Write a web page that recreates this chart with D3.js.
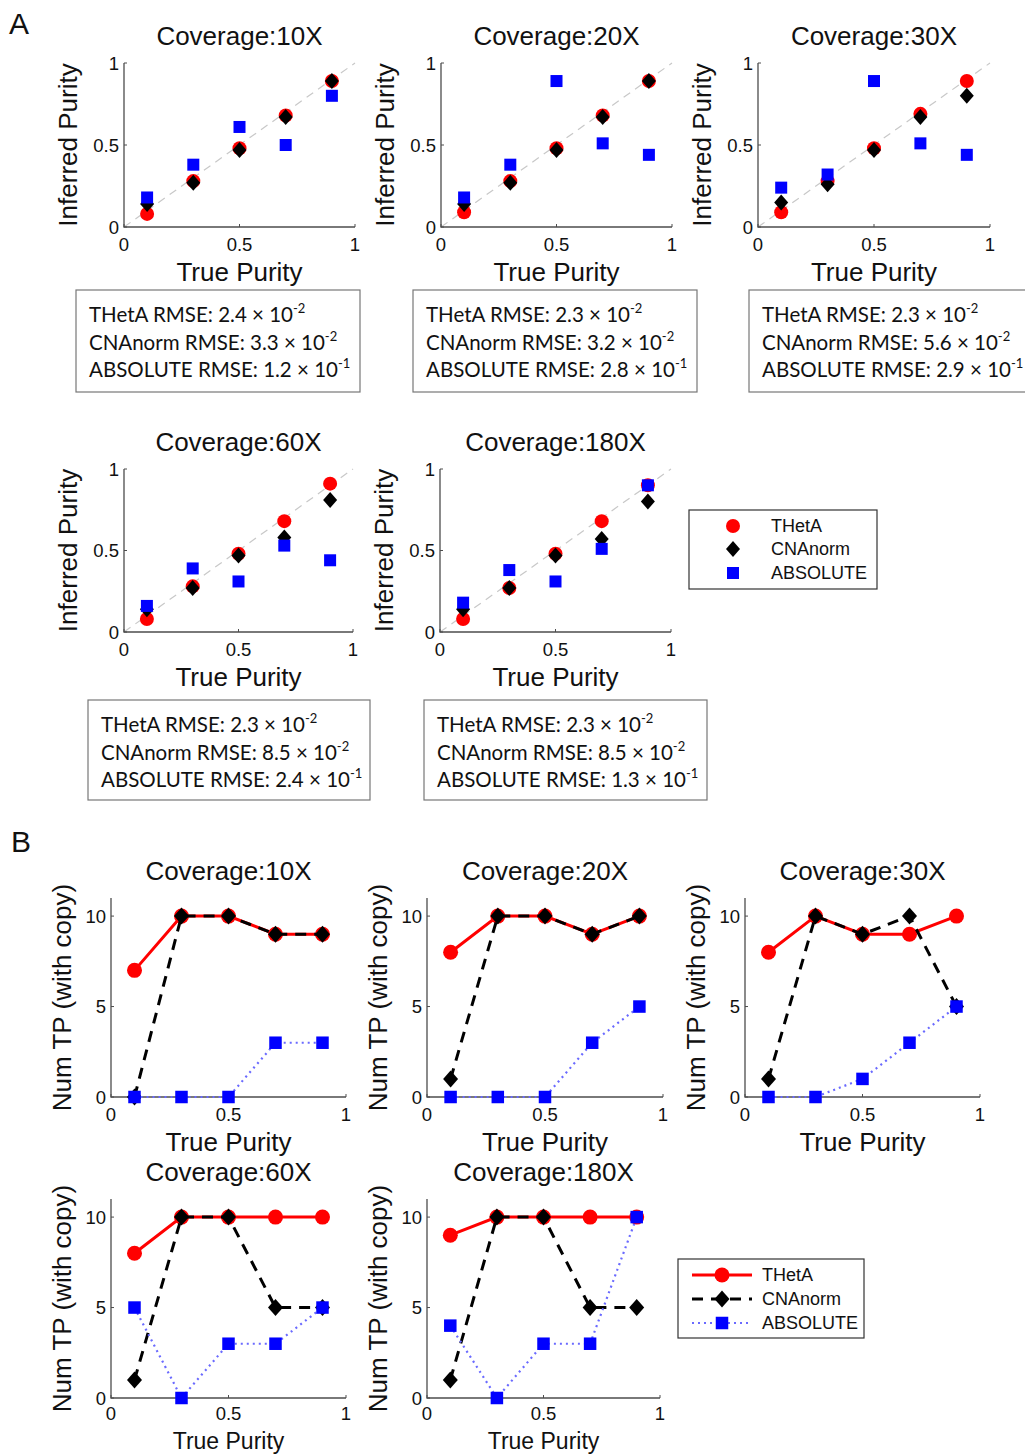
<!DOCTYPE html>
<html>
<head>
<meta charset="utf-8">
<script src="https://cdnjs.cloudflare.com/ajax/libs/d3/7.8.5/d3.min.js"></script>
<style>
  body { margin: 0; background: #fff; }
  svg { display: block; }
</style>
</head>
<body>
<svg id="fig" width="1025" height="1454"></svg>
<script>
// purity figure: A = inferred purity scatter, B = num TP lines

// ---- data ----
const purity = [0.1, 0.3, 0.5, 0.7, 0.9];
const coverages = ["10X", "20X", "30X", "60X", "180X"];
const methods = ["THetA", "CNAnorm", "ABSOLUTE"];
const purityTicks = [0, 0.5, 1];
const tpTicks = [0, 5, 10];

// A: inferred purity per coverage
const inferThetA = [
  [0.08, 0.28, 0.48, 0.68, 0.89],
  [0.09, 0.28, 0.48, 0.68, 0.89],
  [0.09, 0.28, 0.48, 0.69, 0.89],
  [0.08, 0.28, 0.48, 0.68, 0.91],
  [0.08, 0.27, 0.48, 0.68, 0.90]
];
const inferCNAnorm = [
  [0.14, 0.27, 0.47, 0.67, 0.89],
  [0.14, 0.27, 0.47, 0.67, 0.89],
  [0.15, 0.26, 0.47, 0.67, 0.80],
  [0.14, 0.27, 0.47, 0.58, 0.81],
  [0.14, 0.27, 0.47, 0.57, 0.80]
];
const inferAbsolute = [
  [0.18, 0.38, 0.61, 0.50, 0.80],
  [0.18, 0.38, 0.89, 0.51, 0.44],
  [0.24, 0.32, 0.89, 0.51, 0.44],
  [0.16, 0.39, 0.31, 0.53, 0.44],
  [0.18, 0.38, 0.31, 0.51, 0.90]
];
// RMSE: [mantissa, exponent]
const rmseThetA = [["2.4", "-2"], ["2.3", "-2"], ["2.3", "-2"], ["2.3", "-2"], ["2.3", "-2"]];
const rmseCNAnorm = [["3.3", "-2"], ["3.2", "-2"], ["5.6", "-2"], ["8.5", "-2"], ["8.5", "-2"]];
const rmseAbsolute = [["1.2", "-1"], ["2.8", "-1"], ["2.9", "-1"], ["2.4", "-1"], ["1.3", "-1"]];

// B: number of true positives (with copy)
const tpThetA = [
  [7, 10, 10, 9, 9],
  [8, 10, 10, 9, 10],
  [8, 10, 9, 9, 10],
  [8, 10, 10, 10, 10],
  [9, 10, 10, 10, 10]
];
const tpCNAnorm = [
  [0, 10, 10, 9, 9],
  [1, 10, 10, 9, 10],
  [1, 10, 9, 10, 5],
  [1, 10, 10, 5, 5],
  [1, 10, 10, 5, 5]
];
const tpAbsolute = [
  [0, 0, 0, 3, 3],
  [0, 0, 0, 3, 5],
  [0, 0, 1, 3, 5],
  [5, 0, 3, 3, 5],
  [4, 0, 3, 3, 10]
];

// ---- layout ----
const layoutA = [
  { x0: 124, x1: 355, y0: 227, y1: 63 },
  { x0: 441, x1: 672, y0: 227, y1: 63 },
  { x0: 758, x1: 990, y0: 227, y1: 63 },
  { x0: 124, x1: 353, y0: 632, y1: 469 },
  { x0: 440, x1: 671, y0: 632, y1: 469 }
];
const boxesA = [
  { x: 76, y: 290, w: 284, h: 102 },
  { x: 413, y: 290, w: 284, h: 102 },
  { x: 749, y: 290, w: 290, h: 102 },
  { x: 88, y: 700, w: 282, h: 100 },
  { x: 424, y: 700, w: 283, h: 100 }
];
const layoutB = [
  { x0: 111, x1: 346, y0: 1097, y1: 898 },
  { x0: 427, x1: 663, y0: 1097, y1: 898 },
  { x0: 745, x1: 980, y0: 1097, y1: 898 },
  { x0: 111, x1: 346, y0: 1398, y1: 1199 },
  { x0: 427, x1: 660, y0: 1398, y1: 1199 }
];

const FONT = '"Liberation Sans", Arial, Helvetica, sans-serif';
const BOXFONT = 'Lato, "Open Sans", sans-serif';
const RED = "#ff0000", BLUE = "#0000ff", BLUE_LINE = "#6a6aff";
const AXIS = "#4d4d4d";
const H = 1454;

const svg = d3.select("#fig");

// markers
function circle(g, cx, cy, r) {
  g.append("circle").attr("cx", cx).attr("cy", cy).attr("r", r).attr("fill", RED);
}
function diamond(g, cx, cy, w, h) {
  g.append("path")
    .attr("d", `M${cx},${cy - h / 2}L${cx + w / 2},${cy}L${cx},${cy + h / 2}L${cx - w / 2},${cy}Z`)
    .attr("fill", "#000");
}
function square(g, cx, cy, s) {
  g.append("rect").attr("x", cx - s / 2).attr("y", cy - s / 2)
    .attr("width", s).attr("height", s).attr("fill", BLUE);
}

function drawAxes(g, x, y, yTicks, ylabel, ylabOff) {
  const [xa, xb] = x.range();
  const [ya, yb] = y.range();
  // bottom row runs into the page edge: squeeze its x label a little
  const tight = ya + 54 > H - 7;

  g.append("path")
    .attr("d", `M${xa},${yb}V${ya}H${xb}`)
    .attr("fill", "none").attr("stroke", AXIS).attr("stroke-width", 1.3);

  purityTicks.forEach(t => {
    g.append("line").attr("x1", x(t)).attr("x2", x(t)).attr("y1", ya).attr("y2", ya - 3)
      .attr("stroke", AXIS).attr("stroke-width", 1);
    g.append("text").attr("x", x(t)).attr("y", ya + (tight ? 22 : 24))
      .attr("text-anchor", "middle").attr("font-size", 18.5).text(t);
  });
  yTicks.forEach(t => {
    g.append("line").attr("x1", xa).attr("x2", xa + 3).attr("y1", y(t)).attr("y2", y(t))
      .attr("stroke", AXIS).attr("stroke-width", 1);
    g.append("text").attr("x", xa - 5).attr("y", y(t)).attr("dy", "0.36em")
      .attr("text-anchor", "end").attr("font-size", 18.5).text(t);
  });

  g.append("text")
    .attr("transform", `translate(${xa - ylabOff},${(ya + yb) / 2}) rotate(-90)`)
    .attr("text-anchor", "middle").attr("dy", "0.36em")
    .attr("font-size", 26).text(ylabel);
  g.append("text").attr("x", (xa + xb) / 2).attr("y", tight ? H - 5 : ya + 54)
    .attr("text-anchor", "middle").attr("font-size", tight ? 23 : 26).text("True Purity");
}

function title(g, x, y, i) {
  const [xa, xb] = x.range();
  g.append("text").attr("x", (xa + xb) / 2).attr("y", y.range()[1] - 18)
    .attr("text-anchor", "middle").attr("font-size", 26)
    .text("Coverage:" + coverages[i]);
}

// ---- panel A ----
coverages.forEach((cov, i) => {
  const L = layoutA[i];
  const g = svg.append("g").attr("font-family", FONT).attr("fill", "#111");
  const x = d3.scaleLinear().domain([0, 1]).range([L.x0, L.x1]);
  const y = d3.scaleLinear().domain([0, 1]).range([L.y0, L.y1]);

  g.append("line")
    .attr("x1", x(0)).attr("y1", y(0)).attr("x2", x(1)).attr("y2", y(1))
    .attr("stroke", "#c8c8c8").attr("stroke-width", 1.2).attr("stroke-dasharray", "8,6");

  drawAxes(g, x, y, purityTicks, "Inferred Purity", 56);
  title(g, x, y, i);

  purity.forEach((p, j) => circle(g, x(p), y(inferThetA[i][j]), 7));
  purity.forEach((p, j) => diamond(g, x(p), y(inferCNAnorm[i][j]), 14, 16));
  purity.forEach((p, j) => square(g, x(p), y(inferAbsolute[i][j]), 12));

  // rmse box
  const B = boxesA[i];
  const bg = svg.append("g").attr("font-family", BOXFONT).attr("fill", "#111");
  bg.append("rect").attr("x", B.x).attr("y", B.y).attr("width", B.w).attr("height", B.h)
    .attr("fill", "#fff").attr("stroke", "#777").attr("stroke-width", 1.2);
  const rows = [
    ["THetA", rmseThetA[i]],
    ["CNAnorm", rmseCNAnorm[i]],
    ["ABSOLUTE", rmseAbsolute[i]]
  ];
  rows.forEach((r, k) => {
    const t = bg.append("text").attr("x", B.x + 13).attr("y", B.y + 32 + k * 27.5)
      .attr("font-size", 20.5);
    t.append("tspan").text(`${r[0]} RMSE: ${r[1][0]} \u00d7 10`);
    t.append("tspan").attr("dy", -9).attr("font-size", 13).text(r[1][1]);
  });
});

// legend A
{
  const g = svg.append("g").attr("font-family", FONT).attr("fill", "#111");
  g.append("rect").attr("x", 689).attr("y", 510).attr("width", 188).attr("height", 79)
    .attr("fill", "#fff").attr("stroke", "#333").attr("stroke-width", 1.2);
  const ys = [526, 549, 573];
  circle(g, 733, ys[0], 7);
  diamond(g, 733, ys[1], 14, 16);
  square(g, 733, ys[2], 12);
  methods.forEach((m, k) => {
    g.append("text").attr("x", 771).attr("y", ys[k]).attr("dy", "0.36em")
      .attr("font-size", 18).text(m);
  });
}

// ---- panel B ----
coverages.forEach((cov, i) => {
  const L = layoutB[i];
  const g = svg.append("g").attr("font-family", FONT).attr("fill", "#111");
  const x = d3.scaleLinear().domain([0, 1]).range([L.x0, L.x1]);
  const y = d3.scaleLinear().domain([0, 11]).range([L.y0, L.y1]);

  drawAxes(g, x, y, tpTicks, "Num TP (with copy)", 49);
  title(g, x, y, i);

  const line = d3.line().x((d, j) => x(purity[j])).y(d => y(d));

  g.append("path").attr("d", line(tpThetA[i])).attr("fill", "none")
    .attr("stroke", RED).attr("stroke-width", 3);
  purity.forEach((p, j) => circle(g, x(p), y(tpThetA[i][j]), 7.5));

  g.append("path").attr("d", line(tpCNAnorm[i])).attr("fill", "none")
    .attr("stroke", "#000").attr("stroke-width", 3).attr("stroke-dasharray", "11,8");
  purity.forEach((p, j) => diamond(g, x(p), y(tpCNAnorm[i][j]), 15, 17));

  g.append("path").attr("d", line(tpAbsolute[i])).attr("fill", "none")
    .attr("stroke", BLUE_LINE).attr("stroke-width", 2.2).attr("stroke-dasharray", "2,4");
  purity.forEach((p, j) => square(g, x(p), y(tpAbsolute[i][j]), 12.5));
});

// legend B
{
  const g = svg.append("g").attr("font-family", FONT).attr("fill", "#111");
  g.append("rect").attr("x", 678).attr("y", 1259).attr("width", 186).attr("height", 79)
    .attr("fill", "#fff").attr("stroke", "#333").attr("stroke-width", 1.2);
  const ys = [1275, 1299, 1323];
  const seg = (yy, col, w, dash) => g.append("line").attr("x1", 692).attr("x2", 752)
    .attr("y1", yy).attr("y2", yy).attr("stroke", col).attr("stroke-width", w)
    .attr("stroke-dasharray", dash);
  seg(ys[0], RED, 3, null);
  circle(g, 722, ys[0], 7.5);
  seg(ys[1], "#000", 3, "11,8");
  diamond(g, 722, ys[1], 15, 17);
  seg(ys[2], BLUE_LINE, 2.2, "2,4");
  square(g, 722, ys[2], 12.5);
  methods.forEach((m, k) => {
    g.append("text").attr("x", 762).attr("y", ys[k]).attr("dy", "0.36em")
      .attr("font-size", 18).text(m);
  });
}

// panel letters
svg.append("text").attr("x", 9).attr("y", 34).attr("font-family", FONT)
  .attr("font-size", 30).attr("fill", "#111").text("A");
svg.append("text").attr("x", 11).attr("y", 852).attr("font-family", FONT)
  .attr("font-size", 30).attr("fill", "#111").text("B");
</script>
</body>
</html>
